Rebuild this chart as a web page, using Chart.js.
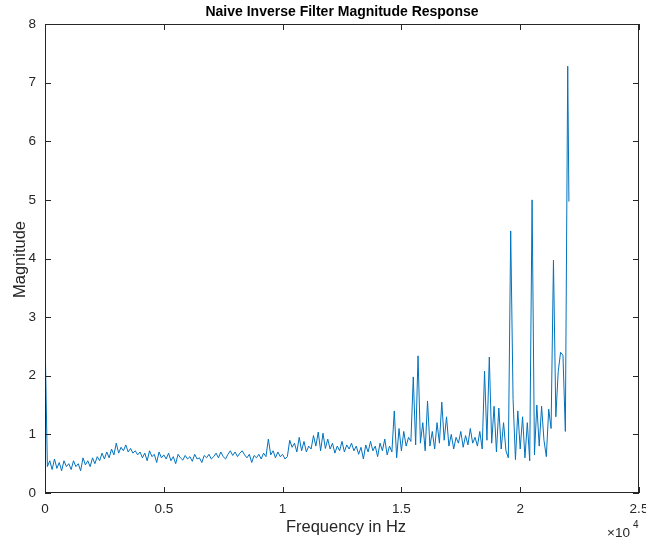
<!DOCTYPE html>
<html>
<head>
<meta charset="utf-8">
<script src="https://cdn.jsdelivr.net/npm/chart.js@4/dist/chart.umd.min.js"></script>
<style>
  html, body { margin: 0; padding: 0; background: #fff; }
  #wrap { width: 646px; height: 540px; }
</style>
</head>
<body>
<div id="wrap"><canvas id="fig"></canvas></div>
<script>
// ---- data ----
const binStep = 100;   // Hz between samples
const lastBin = 22050; // Nyquist

const magnitude = [
  2.7, 0.45, 0.55, 0.4, 0.58, 0.42, 0.52, 0.38, 0.55, 0.45,
  0.5, 0.4, 0.55, 0.45, 0.5, 0.38, 0.6, 0.48, 0.55, 0.45,
  0.6, 0.5, 0.62, 0.55, 0.68, 0.58, 0.7, 0.6, 0.75, 0.65,
  0.85, 0.68, 0.78, 0.72, 0.82, 0.7, 0.76, 0.68, 0.72, 0.65,
  0.7, 0.6, 0.68, 0.55, 0.72, 0.62, 0.66, 0.52, 0.7, 0.6,
  0.65, 0.58, 0.68, 0.55, 0.62, 0.5, 0.66, 0.6, 0.56, 0.64,
  0.58, 0.62, 0.54, 0.66, 0.58, 0.6, 0.52, 0.64, 0.6, 0.66,
  0.58, 0.62, 0.68, 0.6, 0.7, 0.62, 0.58, 0.66, 0.72, 0.64,
  0.7, 0.62, 0.68, 0.72, 0.65, 0.6, 0.66, 0.52, 0.64, 0.6,
  0.66, 0.58, 0.68, 0.62, 0.92, 0.65, 0.72, 0.6, 0.7, 0.62,
  0.66, 0.58, 0.62, 0.9, 0.78, 0.85, 0.7, 0.95, 0.72, 0.88,
  0.7, 0.8, 0.75, 0.98, 0.8, 1.04, 0.72, 1.02, 0.76, 0.92,
  0.75, 0.85, 0.68, 0.8, 0.72, 0.88, 0.7, 0.82, 0.75, 0.85,
  0.72, 0.8, 0.66, 0.78, 0.58, 0.82, 0.7, 0.88, 0.72, 0.8,
  0.62, 0.85, 0.72, 0.92, 0.65, 0.8, 0.7, 1.4, 0.6, 1.1,
  0.72, 1.05, 0.8, 0.95, 0.88, 1.98, 0.82, 2.34, 0.85, 1.2,
  0.72, 1.57, 0.8, 1.05, 0.75, 1.2, 0.85, 1.55, 0.9, 1.3,
  0.8, 1.0, 0.75, 0.95, 0.85, 1.05, 0.78, 0.98, 0.82, 1.1,
  0.85, 0.95, 0.8, 1.05, 0.75, 2.08, 0.9, 2.32, 0.85, 1.48,
  0.7, 1.45, 0.75, 1.2, 0.72, 0.6, 4.47, 1.6, 0.57, 1.4,
  0.75, 1.3, 0.6, 1.2, 0.55, 5.0, 0.65, 1.5, 0.8, 1.48,
  0.9, 0.62, 1.43, 1.1, 3.97, 1.3, 2.07, 2.4, 2.35, 1.05,
  7.28, 4.97
];

const xTicks = [0, 5000, 10000, 15000, 20000, 25000];
const yTicks = [0, 1, 2, 3, 4, 5, 6, 7, 8];

const points = magnitude.map((v, i) => ({
  x: i < magnitude.length - 1 ? i * binStep : lastBin,
  y: v
}));

const axisColor = '#262626';
const font = 'Liberation Sans, Arial, Helvetica, sans-serif';

// box, inward ticks, titles and the x10^4 multiplier (MATLAB look)
const matlabFrame = {
  id: 'matlabFrame',
  afterDraw(chart) {
    const { ctx, chartArea: a, scales } = chart;
    ctx.save();
    ctx.strokeStyle = axisColor;
    ctx.lineWidth = 1;
    ctx.strokeRect(a.left + 0.5, a.top + 0.5, a.right - a.left - 1, a.bottom - a.top - 1);
    const tl = 6;
    ctx.beginPath();
    xTicks.forEach(t => {
      const px = Math.round(scales.x.getPixelForValue(t)) + 0.5;
      ctx.moveTo(px, a.bottom); ctx.lineTo(px, a.bottom - tl);
      ctx.moveTo(px, a.top); ctx.lineTo(px, a.top + tl);
    });
    yTicks.forEach(t => {
      const py = Math.round(scales.y.getPixelForValue(t)) + 0.5;
      ctx.moveTo(a.left, py); ctx.lineTo(a.left + tl, py);
      ctx.moveTo(a.right, py); ctx.lineTo(a.right - tl, py);
    });
    ctx.stroke();

    const cx = (a.left + a.right) / 2;
    ctx.fillStyle = '#000';
    ctx.textAlign = 'center';
    ctx.textBaseline = 'middle';
    ctx.font = 'bold 14px ' + font;
    ctx.fillText('Naive Inverse Filter Magnitude Response', cx, 12);

    ctx.fillStyle = axisColor;
    ctx.font = '16.5px ' + font;
    ctx.fillText('Frequency in Hz', cx + 4, 527);

    ctx.save();
    ctx.translate(20, (a.top + a.bottom) / 2 + 1);
    ctx.rotate(-Math.PI / 2);
    ctx.fillText('Magnitude', 0, 0);
    ctx.restore();

    ctx.textAlign = 'left';
    ctx.font = '13.5px ' + font;
    ctx.fillText('\u00d710', 607, 533);
    ctx.font = '10px ' + font;
    ctx.fillText('4', 633, 525);
    ctx.restore();
  }
};

new Chart(document.getElementById('fig'), {
  type: 'line',
  data: {
    datasets: [{
      data: points,
      borderColor: '#0072BD',
      borderWidth: 1,
      pointRadius: 0,
      tension: 0,
      fill: false
    }]
  },
  options: {
    responsive: true,
    maintainAspectRatio: false,
    animation: false,
    layout: { padding: { top: 24, right: 0, left: 0, bottom: 0 } },
    plugins: { legend: { display: false }, tooltip: { enabled: false } },
    scales: {
      x: {
        type: 'linear',
        min: 0, max: 25000,
        afterFit: s => { s.height = 47; s.paddingLeft = 0; s.paddingRight = 7; },
        afterBuildTicks: s => { s.ticks = xTicks.map(v => ({ value: v })); },
        grid: { display: false, drawTicks: false },
        border: { display: false },
        ticks: {
          padding: 8,
          color: axisColor,
          font: { family: font, size: 13.5 },
          maxRotation: 0,
          callback: v => String(v / 10000)
        }
      },
      y: {
        min: 0, max: 8,
        afterFit: s => { s.width = 45; },
        afterBuildTicks: s => { s.ticks = yTicks.map(v => ({ value: v })); },
        grid: { display: false, drawTicks: false },
        border: { display: false },
        ticks: {
          padding: 9,
          color: axisColor,
          font: { family: font, size: 13.5 }
        }
      }
    }
  },
  plugins: [matlabFrame]
});
</script>
</body>
</html>
